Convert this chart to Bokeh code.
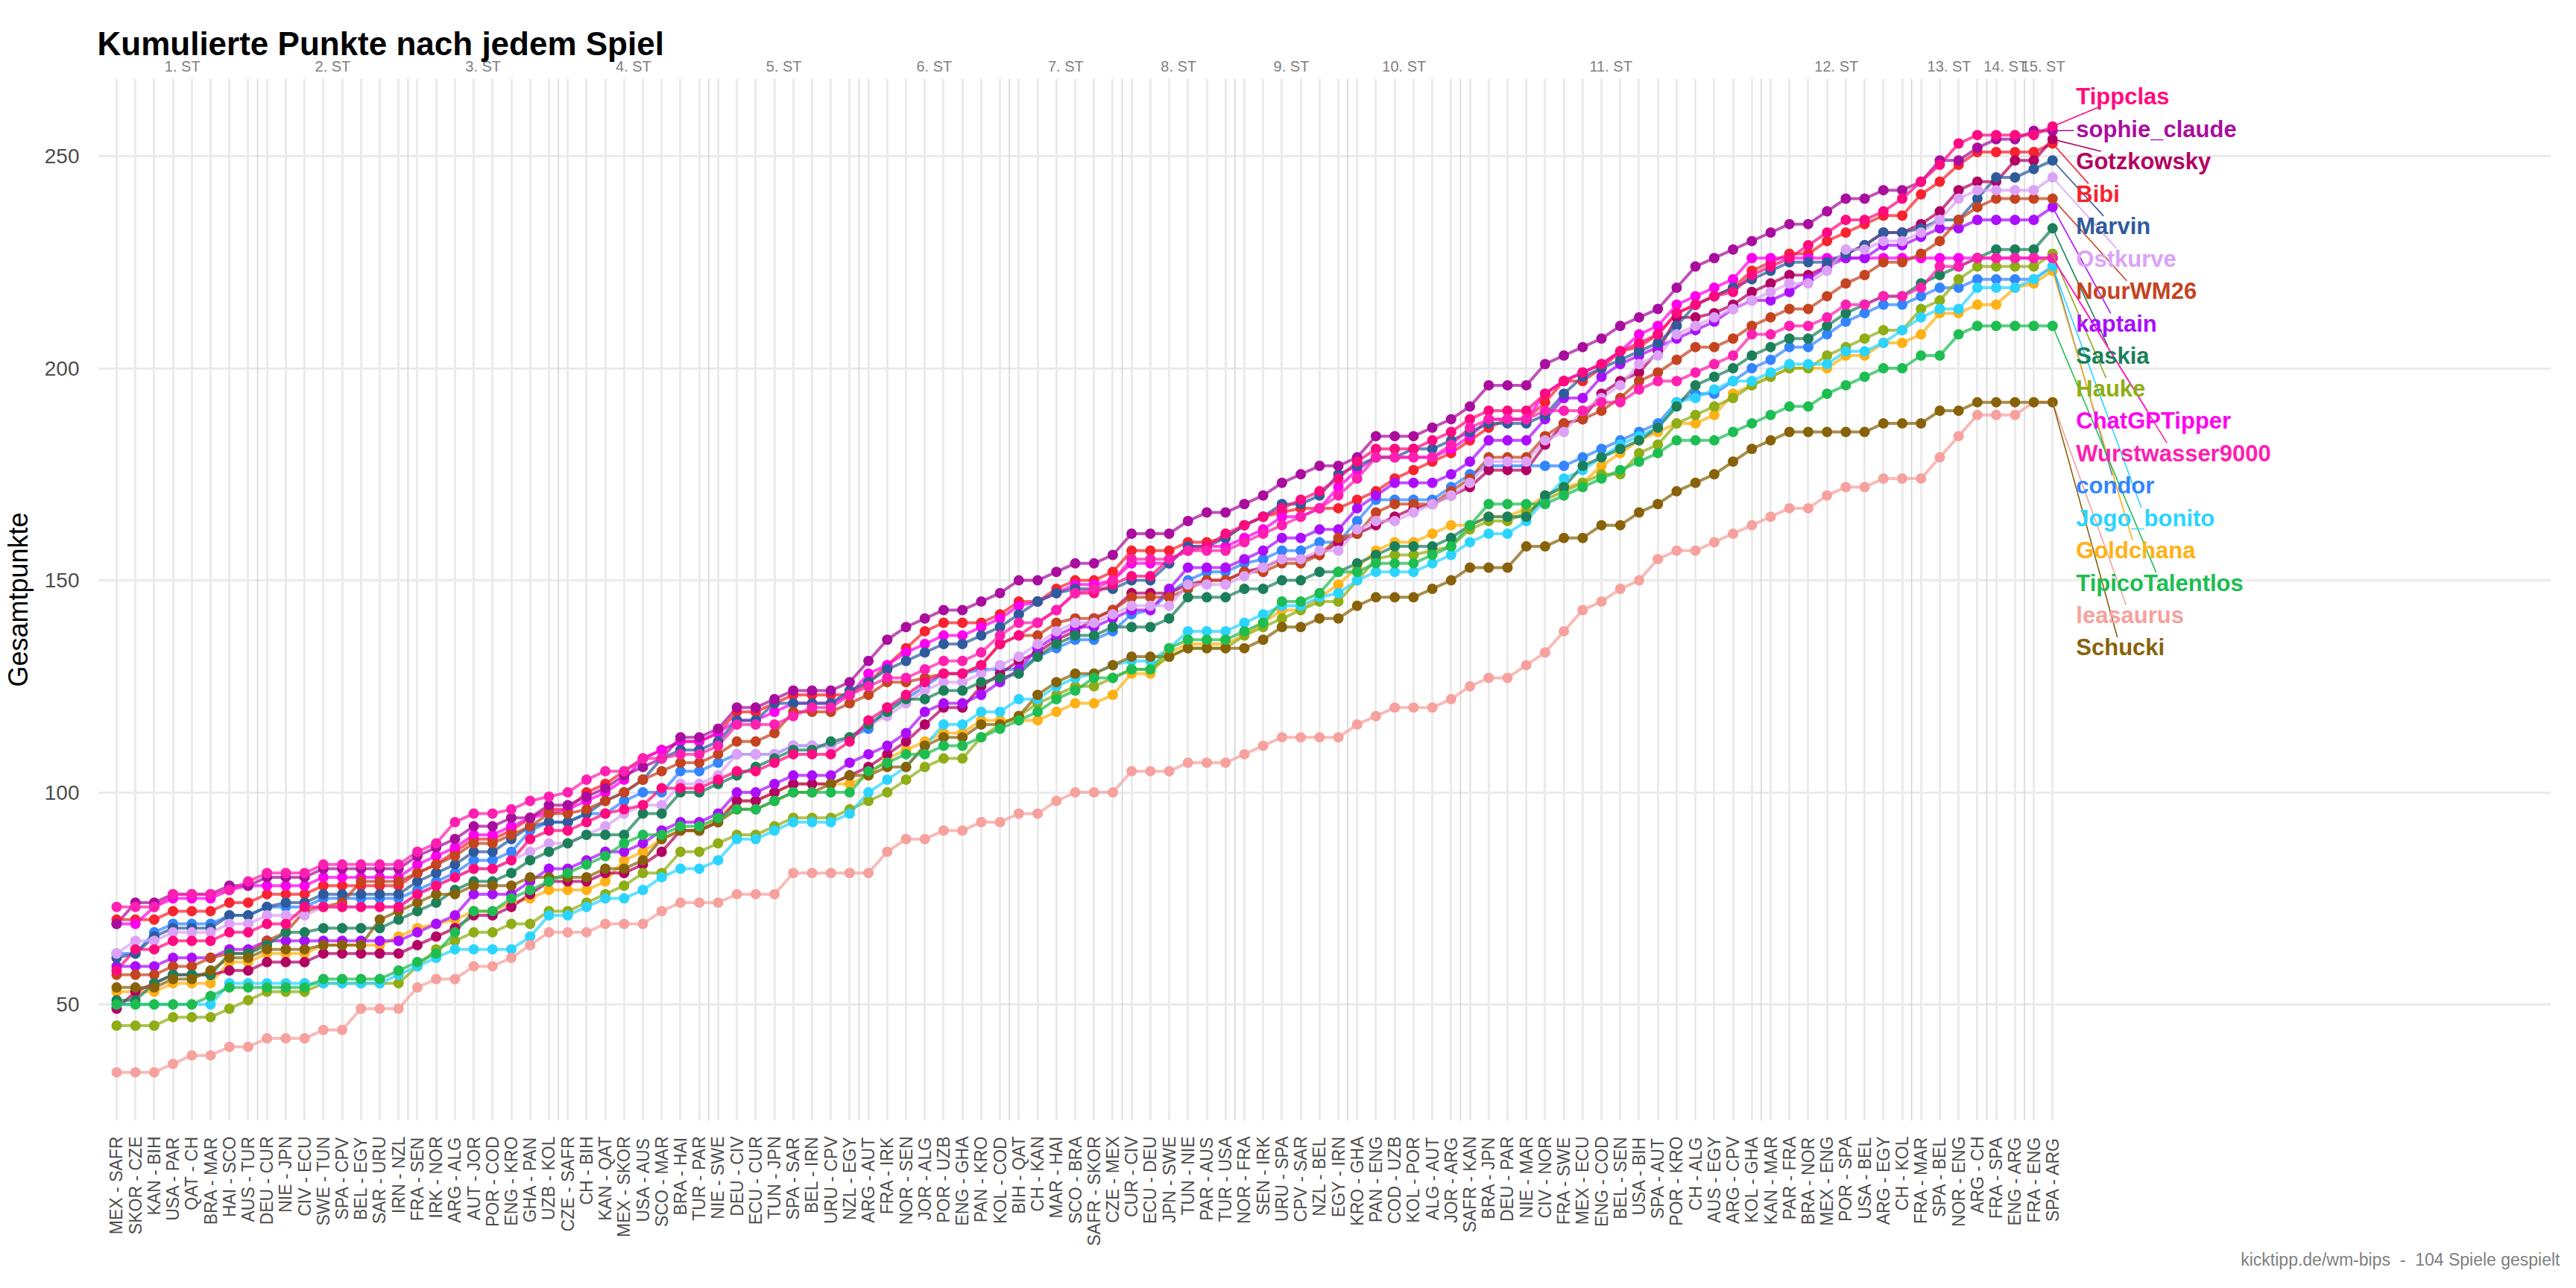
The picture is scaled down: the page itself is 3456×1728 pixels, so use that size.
import math
from bokeh.plotting import figure
from bokeh.models import Range1d, FixedTicker, Span, LinearAxis, Title
from bokeh.core.properties import value
from bokeh.embed import file_html
from bokeh.resources import INLINE

# ---------------- data ----------------
games = ["MEX - SAFR", "SKOR - CZE", "KAN - BIH", "USA - PAR", "QAT - CH", "BRA - MAR", "HAI - SCO", "AUS - TUR",
         "DEU - CUR", "NIE - JPN", "CIV - ECU", "SWE - TUN", "SPA - CPV", "BEL - EGY", "SAR - URU", "IRN - NZL",
         "FRA - SEN", "IRK - NOR", "ARG - ALG", "AUT - JOR", "POR - COD", "ENG - KRO", "GHA - PAN", "UZB - KOL",
         "CZE - SAFR", "CH - BIH", "KAN - QAT", "MEX - SKOR", "USA - AUS", "SCO - MAR", "BRA - HAI", "TUR - PAR",
         "NIE - SWE", "DEU - CIV", "ECU - CUR", "TUN - JPN", "SPA - SAR", "BEL - IRN", "URU - CPV", "NZL - EGY",
         "ARG - AUT", "FRA - IRK", "NOR - SEN", "JOR - ALG", "POR - UZB", "ENG - GHA", "PAN - KRO", "KOL - COD",
         "BIH - QAT", "CH - KAN", "MAR - HAI", "SCO - BRA", "SAFR - SKOR", "CZE - MEX", "CUR - CIV", "ECU - DEU",
         "JPN - SWE", "TUN - NIE", "PAR - AUS", "TUR - USA", "NOR - FRA", "SEN - IRK", "URU - SPA", "CPV - SAR",
         "NZL - BEL", "EGY - IRN", "KRO - GHA", "PAN - ENG", "COD - UZB", "KOL - POR", "ALG - AUT", "JOR - ARG",
         "SAFR - KAN", "BRA - JPN", "DEU - PAR", "NIE - MAR", "CIV - NOR", "FRA - SWE", "MEX - ECU", "ENG - COD",
         "BEL - SEN", "USA - BIH", "SPA - AUT", "POR - KRO", "CH - ALG", "AUS - EGY", "ARG - CPV", "KOL - GHA",
         "KAN - MAR", "PAR - FRA", "BRA - NOR", "MEX - ENG", "POR - SPA", "USA - BEL", "ARG - EGY", "CH - KOL",
         "FRA - MAR", "SPA - BEL", "NOR - ENG", "ARG - CH", "FRA - SPA", "ENG - ARG", "FRA - ENG", "SPA - ARG"]

stage_names = ["1. ST", "2. ST", "3. ST", "4. ST", "5. ST", "6. ST", "7. ST", "8. ST", "9. ST", "10. ST",
               "11. ST", "12. ST", "13. ST", "14. ST", "15. ST"]
stage_sizes = [8, 8, 8, 8, 8, 8, 6, 6, 6, 6, 16, 8, 4, 2, 2]

Bibi = [70, 70, 70, 72, 72, 72, 74, 74, 76, 76,
        76, 78, 78, 78, 78, 78, 81, 83, 86, 89,
        89, 91, 94, 96, 96, 100, 102, 105, 108, 110,
        112, 112, 114, 119, 119, 121, 123, 123, 123, 123,
        126, 130, 134, 138, 140, 140, 140, 142, 145, 145,
        148, 150, 150, 152, 157, 157, 157, 159, 159, 160,
        163, 165, 166, 167, 167, 167, 169, 171, 174, 176,
        178, 180, 183, 186, 188, 188, 192, 197, 197, 200,
        204, 205, 208, 213, 215, 217, 219, 223, 225, 227,
        227, 230, 232, 234, 236, 236, 241, 244, 248, 251,
        251, 251, 251, 253]
ChatGPTipper = [69, 69, 73, 75, 75, 75, 77, 78, 78, 78,
                78, 80, 80, 80, 80, 80, 83, 85, 87, 90,
                90, 92, 94, 95, 96, 98, 100, 103, 108, 110,
                112, 112, 114, 117, 117, 119, 121, 121, 121, 123,
                128, 130, 133, 135, 137, 137, 139, 141, 144, 145,
                147, 149, 149, 150, 154, 154, 154, 158, 158, 158,
                160, 162, 165, 165, 167, 172, 176, 179, 179, 179,
                179, 181, 184, 188, 188, 188, 194, 197, 199, 201,
                204, 208, 210, 215, 217, 219, 221, 226, 226, 226,
                226, 226, 226, 226, 226, 226, 226, 226, 226, 226,
                226, 226, 226, 226]
condor = [62, 62, 67, 69, 69, 69, 71, 71, 73, 73,
          73, 75, 75, 75, 75, 75, 77, 79, 81, 84,
          84, 86, 91, 93, 93, 95, 95, 98, 100, 100,
          105, 105, 107, 109, 109, 109, 111, 111, 111, 113,
          115, 120, 122, 125, 128, 128, 129, 129, 129, 132,
          134, 136, 136, 138, 142, 143, 147, 150, 152, 152,
          154, 155, 157, 157, 159, 159, 164, 169, 169, 169,
          169, 172, 175, 177, 177, 177, 177, 177, 179, 181,
          183, 185, 187, 192, 194, 194, 197, 200, 202, 205,
          205, 208, 211, 213, 215, 215, 217, 219, 219, 221,
          221, 221, 221, 224]
Goldchana = [53, 53, 53, 55, 55, 55, 60, 60, 62, 62,
             62, 64, 64, 64, 64, 66, 68, 69, 70, 72,
             72, 74, 75, 77, 77, 77, 79, 84, 86, 89,
             91, 91, 94, 98, 98, 100, 102, 102, 102, 102,
             104, 108, 110, 112, 114, 114, 117, 117, 117, 117,
             119, 121, 121, 123, 128, 128, 133, 135, 135, 135,
             137, 140, 143, 143, 146, 149, 153, 157, 159, 159,
             161, 163, 163, 165, 165, 167, 170, 172, 173, 177,
             180, 183, 185, 187, 187, 189, 194, 196, 198, 200,
             200, 200, 203, 203, 206, 206, 208, 213, 213, 215,
             215, 219, 220, 223]
Gotzkowsky = [49, 53, 55, 57, 57, 57, 58, 58, 60, 60,
              60, 62, 62, 62, 62, 62, 64, 66, 68, 71,
              71, 73, 76, 79, 79, 79, 81, 81, 83, 86,
              91, 91, 93, 98, 98, 100, 102, 102, 102, 104,
              106, 109, 112, 116, 120, 120, 125, 128, 131, 133,
              136, 138, 141, 143, 147, 147, 147, 149, 150, 150,
              152, 153, 155, 155, 156, 159, 161, 163, 165, 167,
              168, 170, 172, 176, 176, 176, 182, 187, 188, 194,
              197, 199, 204, 212, 212, 213, 215, 218, 220, 222,
              222, 224, 227, 229, 232, 232, 234, 237, 242, 244,
              244, 249, 249, 254]
Hauke = [45, 45, 45, 47, 47, 47, 49, 51, 53, 53,
         53, 55, 55, 55, 55, 55, 59, 63, 65, 67,
         67, 69, 69, 72, 72, 74, 76, 78, 81, 81,
         86, 86, 88, 90, 90, 92, 94, 94, 94, 96,
         98, 100, 103, 106, 108, 108, 113, 116, 118, 121,
         123, 125, 125, 127, 129, 129, 132, 134, 134, 134,
         137, 139, 141, 143, 145, 145, 150, 155, 156, 156,
         157, 158, 162, 164, 164, 166, 169, 171, 173, 175,
         175, 180, 182, 187, 189, 191, 193, 196, 198, 200,
         200, 203, 205, 207, 209, 209, 214, 216, 221, 224,
         224, 224, 224, 227]
Jogo_bonito = [50, 50, 50, 50, 50, 50, 55, 55, 55, 55,
               55, 55, 55, 55, 55, 57, 59, 61, 63, 63,
               63, 63, 66, 71, 71, 73, 75, 75, 77, 80,
               82, 82, 84, 89, 89, 91, 93, 93, 93, 95,
               100, 103, 106, 111, 116, 116, 119, 119, 122, 122,
               125, 127, 128, 130, 131, 131, 134, 138, 138, 138,
               140, 142, 144, 144, 146, 147, 150, 152, 152, 152,
               154, 156, 159, 161, 161, 164, 169, 174, 176, 179,
               182, 184, 186, 192, 193, 195, 197, 197, 199, 201,
               201, 201, 204, 204, 206, 209, 212, 214, 214, 219,
               219, 219, 221, 224]
kaptain = [59, 59, 59, 61, 61, 61, 63, 63, 65, 65,
           65, 65, 65, 65, 65, 65, 67, 69, 71, 76,
           76, 76, 79, 82, 82, 84, 86, 86, 88, 91,
           93, 93, 95, 100, 100, 102, 104, 104, 104, 107,
           109, 111, 114, 119, 121, 121, 123, 126, 129, 134,
           137, 139, 139, 141, 143, 143, 148, 153, 153, 153,
           155, 157, 160, 160, 162, 162, 167, 170, 173, 173,
           173, 175, 178, 183, 183, 183, 188, 193, 193, 198,
           201, 203, 205, 207, 209, 211, 214, 216, 216, 218,
           221, 224, 226, 226, 229, 229, 231, 233, 233, 235,
           235, 235, 235, 238]
leasaurus = [34, 34, 34, 36, 38, 38, 40, 40, 42, 42,
             42, 44, 44, 49, 49, 49, 54, 56, 56, 59,
             59, 61, 64, 67, 67, 67, 69, 69, 69, 72,
             74, 74, 74, 76, 76, 76, 81, 81, 81, 81,
             81, 86, 89, 89, 91, 91, 93, 93, 95, 95,
             98, 100, 100, 100, 105, 105, 105, 107, 107, 107,
             109, 111, 113, 113, 113, 113, 116, 118, 120, 120,
             120, 122, 125, 127, 127, 130, 133, 138, 143, 145,
             148, 150, 155, 157, 157, 159, 161, 163, 165, 167,
             167, 170, 172, 172, 174, 174, 174, 179, 184, 189,
             189, 189, 192, 192]
Marvin = [61, 62, 66, 68, 68, 68, 71, 71, 73, 74,
          74, 76, 76, 76, 76, 76, 79, 81, 83, 86,
          86, 89, 92, 93, 93, 95, 98, 100, 103, 108,
          110, 110, 112, 117, 117, 121, 121, 121, 121, 124,
          126, 129, 131, 133, 135, 135, 137, 139, 142, 145,
          147, 148, 148, 148, 150, 150, 154, 158, 158, 160,
          163, 165, 168, 168, 170, 175, 177, 179, 179, 181,
          181, 183, 185, 187, 187, 187, 189, 194, 198, 200,
          202, 204, 206, 210, 215, 217, 219, 221, 223, 225,
          225, 225, 227, 229, 232, 232, 233, 235, 235, 240,
          245, 245, 247, 249]
NourWM26 = [57, 57, 57, 59, 59, 61, 62, 62, 65, 67,
            72, 73, 74, 79, 79, 79, 81, 83, 85, 88,
            88, 90, 92, 95, 95, 96, 98, 100, 103, 105,
            107, 107, 109, 112, 112, 114, 119, 119, 119, 121,
            123, 126, 126, 127, 128, 128, 130, 135, 137, 137,
            140, 141, 141, 143, 146, 146, 146, 148, 150, 150,
            152, 152, 154, 154, 156, 160, 161, 166, 168, 168,
            168, 171, 174, 179, 179, 179, 184, 187, 188, 190,
            193, 197, 199, 202, 205, 205, 207, 210, 212, 214,
            214, 217, 220, 222, 225, 225, 227, 230, 235, 238,
            240, 240, 240, 240]
Ostkurve = [62, 65, 65, 67, 67, 67, 69, 69, 71, 71,
            71, 73, 73, 73, 73, 73, 76, 78, 80, 82,
            82, 84, 86, 88, 88, 90, 92, 95, 97, 97,
            102, 102, 104, 109, 109, 109, 111, 111, 111, 113,
            116, 118, 121, 124, 126, 126, 128, 130, 132, 135,
            138, 140, 140, 142, 144, 144, 144, 149, 149, 149,
            151, 153, 155, 155, 157, 157, 162, 164, 164, 166,
            168, 170, 173, 178, 178, 178, 183, 185, 190, 193,
            196, 201, 203, 208, 210, 212, 214, 216, 218, 220,
            220, 223, 228, 228, 230, 230, 232, 235, 240, 242,
            242, 242, 242, 245]
Saskia = [51, 51, 55, 57, 57, 57, 62, 62, 64, 67,
          67, 68, 68, 68, 68, 70, 72, 74, 77, 79,
          79, 81, 84, 86, 88, 90, 90, 90, 95, 95,
          100, 100, 102, 104, 106, 108, 110, 110, 112, 113,
          116, 119, 122, 122, 124, 124, 126, 127, 128, 132,
          135, 137, 137, 139, 139, 139, 141, 146, 146, 146,
          148, 148, 150, 150, 152, 152, 154, 156, 158, 158,
          158, 160, 163, 165, 165, 165, 170, 172, 177, 179,
          181, 183, 186, 191, 196, 198, 200, 203, 205, 207,
          207, 210, 213, 215, 217, 217, 220, 222, 224, 226,
          228, 228, 228, 233]
Schucki = [54, 54, 54, 56, 56, 58, 61, 61, 63, 63,
           63, 64, 64, 64, 70, 72, 74, 76, 76, 78,
           78, 78, 80, 80, 80, 80, 82, 82, 84, 89,
           91, 91, 93, 96, 96, 98, 100, 100, 102, 104,
           104, 106, 106, 111, 113, 113, 116, 116, 118, 123,
           126, 128, 128, 130, 132, 132, 132, 134, 134, 134,
           134, 136, 139, 139, 141, 141, 144, 146, 146, 146,
           148, 150, 153, 153, 153, 158, 158, 160, 160, 163,
           163, 166, 168, 171, 173, 175, 178, 181, 183, 185,
           185, 185, 185, 185, 187, 187, 187, 190, 190, 192,
           192, 192, 192, 192]
sophie_claude = [69, 74, 74, 76, 76, 76, 78, 78, 80, 80,
                 80, 82, 82, 82, 82, 82, 85, 87, 89, 92,
                 92, 94, 94, 97, 97, 99, 101, 104, 106, 108,
                 113, 113, 115, 120, 120, 122, 124, 124, 124, 126,
                 131, 136, 139, 141, 143, 143, 145, 147, 150, 150,
                 152, 154, 154, 156, 161, 161, 161, 164, 166, 166,
                 168, 170, 173, 175, 177, 177, 179, 184, 184, 184,
                 186, 188, 191, 196, 196, 196, 201, 203, 205, 207,
                 210, 212, 214, 219, 224, 226, 228, 230, 232, 234,
                 234, 237, 240, 240, 242, 242, 244, 249, 249, 252,
                 254, 254, 256, 256]
TipicoTalentlos = [50, 50, 50, 50, 50, 52, 54, 54, 54, 54,
                   54, 56, 56, 56, 56, 58, 60, 62, 67, 72,
                   72, 75, 77, 79, 81, 83, 85, 88, 90, 90,
                   92, 92, 94, 96, 96, 98, 100, 100, 100, 100,
                   105, 107, 109, 109, 111, 111, 113, 115, 117, 119,
                   122, 124, 127, 127, 129, 129, 134, 136, 136, 136,
                   138, 140, 145, 145, 147, 152, 152, 154, 154, 154,
                   156, 158, 163, 168, 168, 168, 168, 170, 172, 174,
                   176, 178, 180, 183, 183, 183, 185, 187, 189, 191,
                   191, 194, 196, 198, 200, 200, 203, 203, 208, 210,
                   210, 210, 210, 210]
Tippclas = [58, 63, 63, 65, 65, 65, 67, 67, 69, 69,
            73, 73, 73, 73, 73, 73, 76, 78, 80, 82,
            82, 84, 89, 91, 91, 93, 95, 96, 97, 101,
            101, 101, 103, 105, 105, 107, 109, 109, 109, 112,
            117, 120, 123, 126, 128, 128, 130, 135, 137, 140,
            143, 147, 147, 149, 151, 151, 155, 157, 158, 161,
            163, 165, 167, 169, 171, 174, 178, 181, 181, 181,
            183, 185, 188, 190, 190, 190, 194, 197, 199, 201,
            204, 206, 208, 213, 215, 217, 218, 222, 224, 226,
            229, 232, 235, 235, 237, 240, 244, 248, 253, 255,
            255, 255, 255, 257]
Wurstwasser9000 = [73, 73, 73, 76, 76, 76, 77, 79, 81, 81,
                   81, 83, 83, 83, 83, 83, 86, 88, 93, 95,
                   95, 96, 98, 99, 100, 103, 105, 105, 108, 108,
                   109, 109, 111, 116, 116, 116, 118, 120, 120, 123,
                   125, 127, 127, 129, 131, 131, 133, 137, 140, 140,
                   143, 147, 148, 150, 155, 155, 155, 157, 157, 157,
                   159, 161, 163, 165, 167, 170, 174, 179, 179, 179,
                   179, 182, 186, 188, 188, 188, 190, 190, 190, 192,
                   192, 195, 197, 197, 199, 201, 203, 208, 208, 210,
                   210, 212, 215, 215, 217, 217, 219, 224, 224, 226,
                   226, 226, 226, 226]

series = {
    "Bibi": Bibi, "ChatGPTipper": ChatGPTipper, "condor": condor, "Goldchana": Goldchana,
    "Gotzkowsky": Gotzkowsky, "Hauke": Hauke, "Jogo_bonito": Jogo_bonito, "kaptain": kaptain,
    "leasaurus": leasaurus, "Marvin": Marvin, "NourWM26": NourWM26, "Ostkurve": Ostkurve,
    "Saskia": Saskia, "Schucki": Schucki, "sophie_claude": sophie_claude,
    "TipicoTalentlos": TipicoTalentlos, "Tippclas": Tippclas, "Wurstwasser9000": Wurstwasser9000,
}

colors = {
    "Bibi": "#F8232F", "ChatGPTipper": "#FF00EE", "condor": "#3385FF", "Goldchana": "#FFB115",
    "Gotzkowsky": "#B30062", "Hauke": "#8FAD15", "Jogo_bonito": "#2BD4FF", "kaptain": "#AA0EFC",
    "leasaurus": "#F6A19D", "Marvin": "#2E5B9C", "NourWM26": "#C5431F", "Ostkurve": "#DCA2F7",
    "Saskia": "#1B805A", "Schucki": "#876209", "sophie_claude": "#A90D9E",
    "TipicoTalentlos": "#1DBD51", "Tippclas": "#FF0A80", "Wurstwasser9000": "#FF1FB0",
}

title_text = "Kumulierte Punkte nach jedem Spiel"
y_title = "Gesamtpunkte"
caption_text = "kicktipp.de/wm-bips\u00a0\u00a0-\u00a0\u00a0104 Spiele gespielt"
y_ticks = [50, 100, 150, 200, 250]

# ---------------- layout ----------------
FONT = "Liberation Sans"
W, H = 3440, 1712
ML, MR, MT, MB = 120, 18, 105, 209
X0, X1 = -0.99, 129.52
Y0, Y1 = 22.6, 268.3
px_x = (W - ML - MR) / (X1 - X0)
px_y = (H - MT - MB) / (Y1 - Y0)

p = figure(width=W, height=H, x_range=Range1d(X0, X1), y_range=Range1d(Y0, Y1),
           output_backend="svg", toolbar_location=None,
           min_border_left=ML, min_border_right=MR, min_border_top=MT, min_border_bottom=MB)
p.outline_line_color = None
p.background_fill_color = "white"
p.border_fill_color = "white"

# title (above) and caption (below)
p.title.text = title_text
p.title.align = "left"
p.title.offset = -1
p.title.standoff = -16
p.title.text_font = FONT
p.title.text_font_size = "44px"
p.title.text_font_style = "bold"
p.title.text_color = "black"

cap = Title(text=caption_text, align="right", offset=-12, standoff=0, text_font=FONT,
            text_font_size="23px", text_font_style="normal", text_color="#7F7F7F")
p.add_layout(cap, "below")

n = len(games)
xt = FixedTicker(ticks=list(range(n)))
p.xaxis.ticker = xt
p.xgrid.ticker = xt
p.xaxis.major_label_overrides = {i: g for i, g in enumerate(games)}
p.xaxis.major_label_orientation = math.pi / 2
p.xaxis.major_label_text_font = FONT
p.xaxis.major_label_text_font_size = "23px"
p.xaxis.major_label_text_color = "#4D4D4D"
p.xaxis.major_label_standoff = 15

yt = FixedTicker(ticks=y_ticks)
p.yaxis.ticker = yt
p.ygrid.ticker = yt
p.yaxis.major_label_text_font = FONT
p.yaxis.major_label_text_font_size = "28px"
p.yaxis.major_label_text_color = "#4D4D4D"
p.yaxis.major_label_standoff = 19
p.yaxis.axis_label = y_title
p.yaxis.axis_label_text_font = FONT
p.yaxis.axis_label_text_font_size = "36px"
p.yaxis.axis_label_text_font_style = "normal"
p.yaxis.axis_label_text_color = "black"
p.yaxis.axis_label_standoff = 12

for g in (p.xgrid, p.ygrid):
    g.grid_line_color = "#EBEBEB"
    g.grid_line_width = 3
    g.minor_grid_line_color = None

# stage boundaries and stage labels (as an axis above the panel)
centers, overrides = [], {}
start = 0
for name, size in zip(stage_names, stage_sizes):
    end = start + size - 1
    if end < n - 1:
        p.add_layout(Span(location=end + 0.5, dimension="height", line_color="#D4D4D4",
                          line_width=1.5, level="underlay"))
    c = (start + end) / 2
    centers.append(c)
    overrides[c] = name
    start = end + 1

top_axis = LinearAxis(ticker=FixedTicker(ticks=centers), major_label_overrides=overrides,
                      major_label_standoff=0, major_label_text_font=FONT,
                      major_label_text_font_size="20px", major_label_text_color="#7F7F7F")
p.add_layout(top_axis, "above")

for ax in list(p.xaxis) + list(p.yaxis):
    ax.axis_line_color = None
    ax.major_tick_line_color = None
    ax.minor_tick_line_color = None

order = sorted(series.keys(), key=lambda s: s.lower())

for name in order:
    ys = series[name]
    p.line(x=list(range(len(ys))), y=ys, line_color=colors[name], line_width=4, line_alpha=0.72)
for name in order:
    ys = series[name]
    p.scatter(x=list(range(len(ys))), y=ys, size=14, fill_color=colors[name], line_color=None)

# repelled labels at the right
CW = {'a': 556, 'b': 611, 'c': 556, 'd': 611, 'e': 556, 'f': 333, 'g': 611, 'h': 611, 'i': 278,
      'j': 278, 'k': 556, 'l': 278, 'm': 889, 'n': 611, 'o': 611, 'p': 611, 'q': 611, 'r': 389,
      's': 556, 't': 333, 'u': 611, 'v': 556, 'w': 778, 'x': 556, 'y': 556, 'z': 500,
      'B': 722, 'C': 722, 'G': 778, 'H': 722, 'J': 556, 'M': 833, 'N': 722, 'O': 778, 'P': 667,
      'S': 667, 'T': 611, 'W': 944, '_': 556}
LFS = 31
def text_w(s):
    return sum(CW.get(ch, 556) for ch in s) / 1000 * LFS

ranked = sorted(series.keys(), key=lambda s: (-series[s][-1], s.lower()))
label_top, label_step = 264.0, 7.64
lab_x0 = 104.25
tx, ty, tt, tc = [], [], [], []
sx0, sy0, sx1, sy1, sc = [], [], [], [], []
for k, name in enumerate(ranked):
    ly = label_top - k * label_step
    ys = series[name]
    px, py = len(ys) - 1, ys[-1]
    wpx = text_w(name)
    cx = lab_x0 + wpx / 2 / px_x
    dx = (px - cx) * px_x
    dy = (py - ly) * px_y
    hw, hh = wpx / 2 + 3, 14
    t = min(hw / abs(dx) if dx else 1e9, hh / abs(dy) if dy else 1e9)
    ex = cx + t * dx / px_x
    ey = ly + t * dy / px_y
    sx0.append(px); sy0.append(py); sx1.append(ex); sy1.append(ey); sc.append(colors[name])
    tx.append(lab_x0); ty.append(ly); tt.append(name); tc.append(colors[name])

p.segment(x0=sx0, y0=sy0, x1=sx1, y1=sy1, line_color=sc, line_width=1.6)
p.text(x=tx, y=ty, text=tt, text_color=tc, text_font=value(FONT), text_font_size="31px",
       text_font_style="bold", text_align="left", text_baseline="middle")

open("out.html", "w").write(file_html(p, INLINE))
